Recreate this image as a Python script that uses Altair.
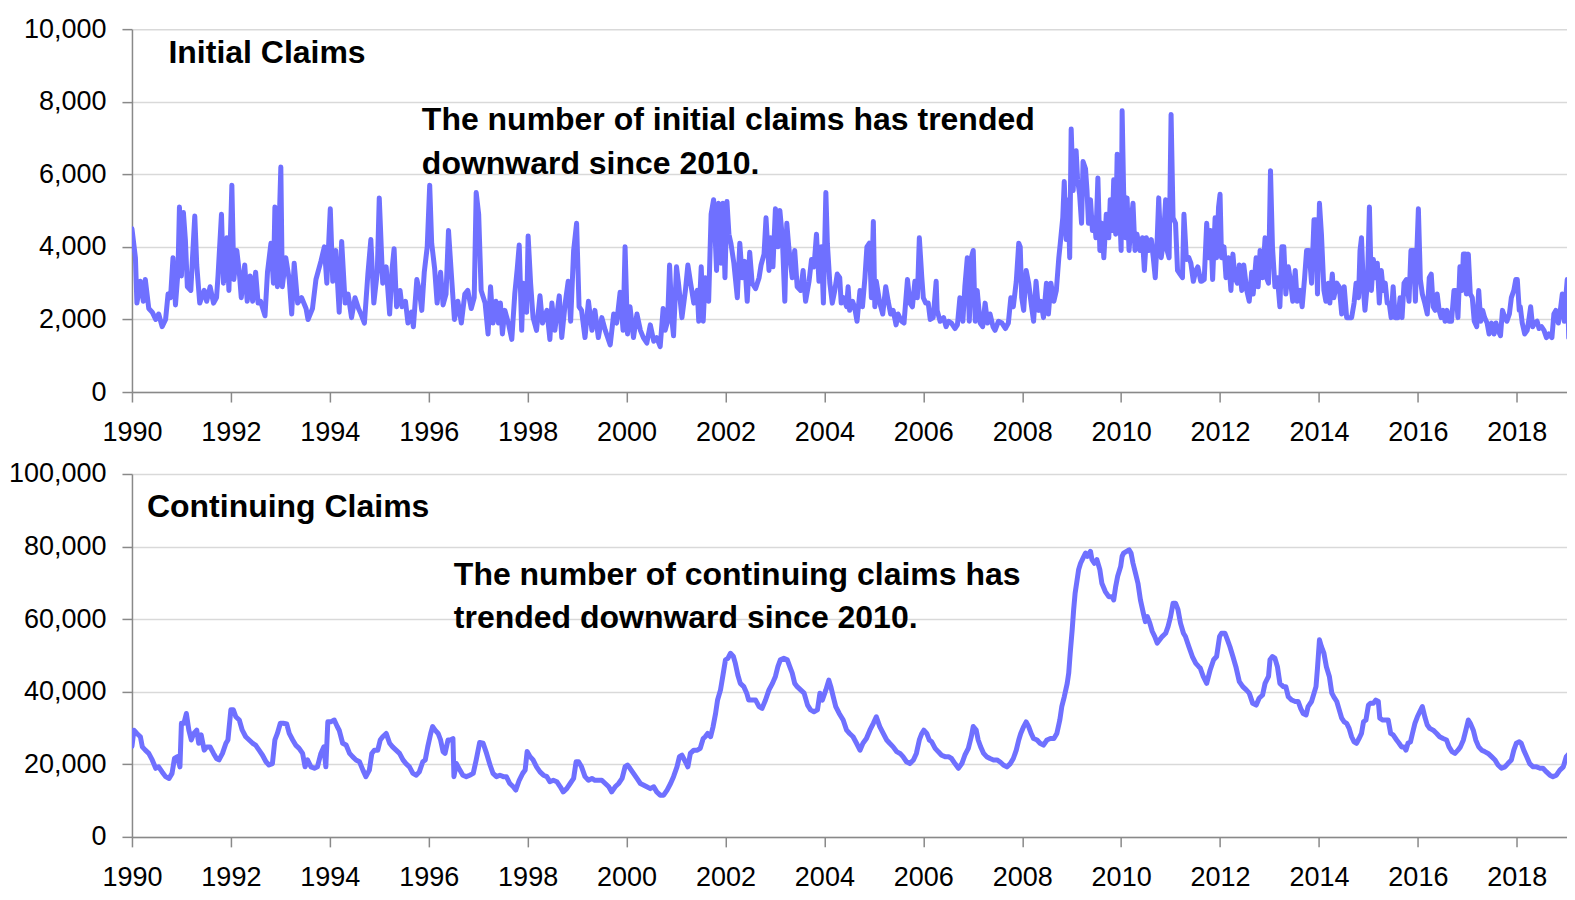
import altair as alt
import pandas as pd

# ---------------- data ----------------
# (decimal year, thousands of claims)
initial_claims = [
    (1990.00, 4500), (1990.07, 3700), (1990.10, 2450), (1990.17, 3050), (1990.23, 2500), (1990.27, 3100),
    (1990.34, 2300), (1990.41, 2200), (1990.48, 2000), (1990.54, 2150), (1990.61, 1800), (1990.68, 2000),
    (1990.73, 2700), (1990.78, 2600), (1990.83, 3700), (1990.88, 2400), (1990.93, 3300), (1990.96, 5100),
    (1991.00, 3200), (1991.04, 4950), (1991.08, 4200), (1991.12, 2900), (1991.19, 2800), (1991.22, 3600),
    (1991.27, 4850), (1991.31, 3500), (1991.37, 2450), (1991.46, 2800), (1991.51, 2500), (1991.58, 2900),
    (1991.65, 2450), (1991.71, 2600), (1991.74, 3200), (1991.81, 4900), (1991.85, 3000), (1991.92, 4250),
    (1991.96, 2800), (1992.02, 5700), (1992.06, 3100), (1992.12, 3900), (1992.17, 3300), (1992.21, 2600),
    (1992.28, 3500), (1992.33, 2500), (1992.39, 3200), (1992.44, 2500), (1992.50, 3300), (1992.55, 2450),
    (1992.60, 2500), (1992.69, 2100), (1992.74, 3300), (1992.81, 4100), (1992.86, 3000), (1992.89, 5100),
    (1992.94, 2900), (1993.01, 6200), (1993.04, 2900), (1993.11, 3700), (1993.18, 3100), (1993.23, 2150),
    (1993.28, 3550), (1993.35, 2450), (1993.43, 2600), (1993.52, 2300), (1993.56, 2000), (1993.65, 2300),
    (1993.72, 3100), (1993.82, 3600), (1993.89, 4000), (1993.94, 3000), (1994.01, 5050), (1994.06, 3050),
    (1994.12, 3900), (1994.19, 2200), (1994.24, 4150), (1994.31, 2450), (1994.37, 2700), (1994.44, 2050),
    (1994.51, 2600), (1994.58, 2300), (1994.63, 2150), (1994.70, 1900), (1994.77, 3250), (1994.83, 4200),
    (1994.89, 2450), (1994.96, 3300), (1995.00, 5350), (1995.07, 3000), (1995.14, 3450), (1995.21, 2150),
    (1995.26, 3400), (1995.30, 3950), (1995.35, 2350), (1995.42, 2800), (1995.46, 2350), (1995.53, 2500),
    (1995.58, 1900), (1995.65, 2200), (1995.69, 1800), (1995.76, 3100), (1995.81, 2800), (1995.86, 2250),
    (1995.91, 3300), (1995.97, 4000), (1996.02, 5700), (1996.06, 4100), (1996.12, 3400), (1996.17, 2450),
    (1996.24, 3300), (1996.29, 2400), (1996.35, 2700), (1996.40, 4450), (1996.46, 3200), (1996.52, 2000),
    (1996.59, 2500), (1996.66, 1900), (1996.73, 2700), (1996.79, 2800), (1996.86, 2300), (1996.92, 2600),
    (1996.96, 5500), (1997.01, 4900), (1997.06, 2800), (1997.14, 2450), (1997.20, 1600), (1997.25, 2900),
    (1997.30, 1900), (1997.36, 2500), (1997.41, 1900), (1997.45, 2450), (1997.49, 1600), (1997.54, 2250),
    (1997.61, 1900), (1997.68, 1450), (1997.74, 2700), (1997.79, 3400), (1997.83, 4050), (1997.88, 1700),
    (1997.91, 3000), (1997.98, 2200), (1998.01, 4300), (1998.06, 3000), (1998.11, 2050), (1998.18, 1700),
    (1998.25, 2650), (1998.30, 1900), (1998.39, 2250), (1998.45, 1450), (1998.49, 2450), (1998.55, 1700),
    (1998.64, 2650), (1998.69, 1500), (1998.76, 2450), (1998.82, 3050), (1998.87, 1950), (1998.93, 3900),
    (1998.99, 4650), (1999.04, 2350), (1999.09, 2250), (1999.16, 1500), (1999.23, 2500), (1999.30, 1700),
    (1999.36, 2250), (1999.43, 1500), (1999.50, 2050), (1999.57, 1700), (1999.67, 1300), (1999.74, 2150),
    (1999.80, 1900), (1999.87, 2750), (1999.93, 1700), (1999.97, 4000), (2000.02, 1600), (2000.07, 2350),
    (2000.14, 1500), (2000.21, 2150), (2000.28, 1700), (2000.34, 1500), (2000.41, 1350), (2000.48, 1850),
    (2000.55, 1400), (2000.61, 1500), (2000.68, 1250), (2000.74, 2300), (2000.78, 1700), (2000.83, 1950),
    (2000.87, 3500), (2000.92, 1950), (2000.95, 1550), (2001.01, 3450), (2001.05, 3000), (2001.12, 2050),
    (2001.19, 2800), (2001.24, 3500), (2001.29, 3050), (2001.36, 2450), (2001.43, 2800), (2001.46, 1950),
    (2001.51, 3450), (2001.55, 1950), (2001.59, 3150), (2001.66, 2500), (2001.71, 4900), (2001.76, 5300),
    (2001.82, 3350), (2001.86, 5200), (2001.91, 3550), (2001.95, 5200), (2001.99, 3150), (2002.03, 5250),
    (2002.07, 4350), (2002.11, 4100), (2002.17, 3550), (2002.24, 2600), (2002.29, 4100), (2002.34, 3150),
    (2002.39, 3600), (2002.44, 2500), (2002.49, 3850), (2002.54, 3000), (2002.61, 2850), (2002.68, 3150),
    (2002.72, 3500), (2002.78, 3800), (2002.82, 4800), (2002.88, 3350), (2002.91, 4250), (2002.96, 3450),
    (2003.01, 5050), (2003.06, 4000), (2003.10, 5000), (2003.15, 4250), (2003.20, 2500), (2003.24, 4650),
    (2003.28, 4000), (2003.35, 3150), (2003.40, 3900), (2003.45, 2900), (2003.52, 2800), (2003.57, 3350),
    (2003.62, 2500), (2003.69, 3050), (2003.74, 3650), (2003.79, 3450), (2003.84, 4350), (2003.89, 3050),
    (2003.94, 4000), (2003.98, 2450), (2004.03, 5500), (2004.06, 4100), (2004.11, 3000), (2004.16, 2450),
    (2004.21, 2800), (2004.26, 3250), (2004.31, 3150), (2004.34, 2450), (2004.39, 2600), (2004.45, 2350),
    (2004.48, 2900), (2004.51, 2250), (2004.57, 2500), (2004.61, 2350), (2004.66, 1950), (2004.72, 2800),
    (2004.77, 2350), (2004.82, 3150), (2004.86, 4000), (2004.91, 4100), (2004.95, 2600), (2004.99, 4700),
    (2005.02, 2350), (2005.05, 3050), (2005.12, 2450), (2005.18, 2150), (2005.24, 2900), (2005.29, 2500),
    (2005.34, 2150), (2005.39, 2250), (2005.45, 1850), (2005.49, 2150), (2005.56, 1950), (2005.61, 1900),
    (2005.68, 3100), (2005.73, 2450), (2005.78, 2350), (2005.83, 3050), (2005.88, 2600), (2005.92, 4250),
    (2005.97, 3150), (2006.00, 2600), (2006.05, 2450), (2006.10, 2450), (2006.14, 2000), (2006.20, 2050),
    (2006.26, 3050), (2006.28, 2250), (2006.34, 1950), (2006.41, 2050), (2006.46, 1800), (2006.51, 1950),
    (2006.57, 1900), (2006.64, 1750), (2006.69, 1850), (2006.74, 2600), (2006.80, 1950), (2006.84, 2900),
    (2006.89, 3700), (2006.93, 1950), (2006.98, 3750), (2007.01, 3900), (2007.05, 1950), (2007.09, 2800),
    (2007.15, 1900), (2007.20, 1800), (2007.25, 2450), (2007.30, 1900), (2007.35, 2150), (2007.41, 1800),
    (2007.45, 1700), (2007.52, 1950), (2007.59, 1900), (2007.66, 1750), (2007.72, 1900), (2007.77, 2600),
    (2007.82, 2350), (2007.88, 3050), (2007.93, 4100), (2007.96, 4000), (2007.99, 2600), (2008.03, 2250),
    (2008.08, 3350), (2008.13, 3000), (2008.18, 2450), (2008.23, 1950), (2008.28, 3050), (2008.33, 2250),
    (2008.38, 2500), (2008.43, 2050), (2008.49, 3000), (2008.53, 2150), (2008.58, 3000), (2008.64, 2500),
    (2008.69, 2800), (2008.74, 3700), (2008.77, 4100), (2008.82, 4800), (2008.85, 5800), (2008.89, 4200),
    (2008.93, 5300), (2008.96, 3700), (2008.99, 7250), (2009.03, 5550), (2009.06, 6450), (2009.09, 6650),
    (2009.12, 5850), (2009.16, 5450), (2009.20, 4650), (2009.23, 6350), (2009.28, 6150), (2009.31, 5550),
    (2009.34, 4650), (2009.38, 5300), (2009.42, 4450), (2009.46, 4800), (2009.49, 4250), (2009.53, 5900),
    (2009.57, 3900), (2009.61, 4650), (2009.65, 3700), (2009.70, 4900), (2009.75, 4250), (2009.78, 5300),
    (2009.82, 4450), (2009.85, 5850), (2009.89, 4350), (2009.92, 6550), (2009.96, 5350), (2010.00, 3900),
    (2010.02, 7750), (2010.05, 5550), (2010.09, 4250), (2010.12, 5350), (2010.16, 3900), (2010.20, 4650),
    (2010.24, 5200), (2010.28, 3900), (2010.32, 4350), (2010.38, 3900), (2010.43, 4250), (2010.47, 3350),
    (2010.51, 4250), (2010.56, 3900), (2010.61, 4200), (2010.65, 3700), (2010.69, 3150), (2010.73, 4250),
    (2010.76, 5350), (2010.81, 3700), (2010.85, 4100), (2010.90, 5300), (2010.93, 3900), (2010.97, 3700),
    (2011.01, 7650), (2011.05, 4800), (2011.10, 4650), (2011.14, 3350), (2011.19, 3250), (2011.24, 3150),
    (2011.27, 4900), (2011.32, 3650), (2011.37, 3700), (2011.41, 3550), (2011.46, 3050), (2011.51, 3350),
    (2011.55, 3450), (2011.61, 3050), (2011.63, 3050), (2011.68, 3100), (2011.73, 4650), (2011.77, 3700),
    (2011.81, 4450), (2011.85, 3100), (2011.90, 4800), (2011.93, 3700), (2011.97, 5100), (2012.00, 5450),
    (2012.03, 3700), (2012.08, 4000), (2012.12, 3150), (2012.17, 3700), (2012.22, 2800), (2012.26, 3800),
    (2012.30, 3150), (2012.35, 3000), (2012.39, 3500), (2012.44, 2800), (2012.48, 3500), (2012.54, 2800),
    (2012.59, 2500), (2012.64, 3300), (2012.67, 2700), (2012.73, 3700), (2012.77, 2900), (2012.81, 3900),
    (2012.86, 3150), (2012.91, 4250), (2012.94, 3150), (2012.98, 3000), (2013.02, 6100), (2013.06, 4000),
    (2013.11, 2900), (2013.16, 3150), (2013.21, 2350), (2013.25, 4000), (2013.29, 4000), (2013.33, 2700),
    (2013.38, 3450), (2013.43, 3000), (2013.47, 2500), (2013.52, 3350), (2013.56, 2500), (2013.62, 2800),
    (2013.66, 2350), (2013.71, 3150), (2013.75, 3900), (2013.80, 3900), (2013.85, 3000), (2013.90, 4750),
    (2013.94, 4750), (2013.97, 2700), (2014.01, 5200), (2014.05, 4350), (2014.10, 2800), (2014.14, 2500),
    (2014.19, 3000), (2014.22, 2450), (2014.27, 3250), (2014.30, 2600), (2014.36, 3000), (2014.41, 2900),
    (2014.46, 2150), (2014.51, 2900), (2014.56, 2050), (2014.61, 2050), (2014.66, 2050), (2014.71, 2450),
    (2014.75, 3000), (2014.80, 2600), (2014.83, 3900), (2014.86, 4250), (2014.90, 2800), (2014.93, 2250),
    (2014.98, 3000), (2015.02, 5100), (2015.06, 2800), (2015.10, 3650), (2015.14, 3150), (2015.18, 3550),
    (2015.22, 2450), (2015.26, 3350), (2015.30, 2800), (2015.34, 3000), (2015.38, 2450), (2015.42, 2450),
    (2015.46, 2050), (2015.50, 2900), (2015.54, 2050), (2015.60, 2050), (2015.64, 2600), (2015.68, 2050),
    (2015.72, 3000), (2015.77, 3100), (2015.82, 2500), (2015.86, 3900), (2015.91, 3900), (2015.95, 2500),
    (2015.98, 3900), (2016.01, 5050), (2016.05, 3100), (2016.09, 2700), (2016.14, 2450), (2016.19, 2150),
    (2016.23, 3150), (2016.27, 3250), (2016.31, 2350), (2016.35, 2250), (2016.39, 2700), (2016.43, 2250),
    (2016.47, 2050), (2016.51, 2250), (2016.55, 1950), (2016.59, 2250), (2016.63, 1950), (2016.68, 1950),
    (2016.73, 2800), (2016.77, 2800), (2016.81, 2050), (2016.85, 3450), (2016.89, 2800), (2016.92, 3800),
    (2016.96, 3800), (2016.98, 2700), (2017.02, 3800), (2017.06, 2700), (2017.10, 2600), (2017.14, 1950),
    (2017.19, 1800), (2017.23, 2800), (2017.27, 1950), (2017.31, 2250), (2017.35, 2050), (2017.40, 1900),
    (2017.44, 1600), (2017.49, 1900), (2017.54, 1600), (2017.58, 1900), (2017.62, 1700), (2017.67, 1550),
    (2017.71, 2250), (2017.76, 2050), (2017.80, 1950), (2017.85, 2150), (2017.89, 2600), (2017.94, 2800),
    (2017.98, 3100), (2018.01, 3100), (2018.05, 2250), (2018.07, 2350), (2018.11, 1900), (2018.16, 1600),
    (2018.21, 1700), (2018.25, 2050), (2018.28, 2350), (2018.32, 1800), (2018.36, 1900), (2018.41, 1950),
    (2018.45, 1750), (2018.50, 1800), (2018.55, 1700), (2018.60, 1500), (2018.65, 1600), (2018.71, 1500),
    (2018.75, 2150), (2018.79, 2250), (2018.84, 1900), (2018.88, 2250), (2018.92, 2700), (2018.96, 1950),
    (2018.99, 2600), (2019.02, 3100), (2019.05, 1500),
]

continuing_claims = [
    (1990.00, 25000), (1990.04, 29400), (1990.10, 28500), (1990.17, 27600), (1990.21, 24800), (1990.27, 23900),
    (1990.34, 23000), (1990.41, 21200), (1990.48, 18900), (1990.54, 19300), (1990.61, 17900), (1990.68, 16600),
    (1990.75, 16100), (1990.81, 17500), (1990.86, 21600), (1990.92, 22100), (1990.97, 19300), (1991.00, 31300),
    (1991.05, 31300), (1991.10, 34000), (1991.15, 29400), (1991.20, 26700), (1991.25, 28500), (1991.31, 29400),
    (1991.35, 25800), (1991.40, 28100), (1991.46, 23900), (1991.51, 24800), (1991.58, 24800), (1991.65, 23000),
    (1991.71, 21600), (1991.76, 21200), (1991.83, 23000), (1991.90, 25800), (1991.94, 26700), (1992.00, 35000),
    (1992.05, 35000), (1992.10, 33100), (1992.17, 32200), (1992.23, 29400), (1992.30, 27600), (1992.37, 26700),
    (1992.44, 25800), (1992.50, 25300), (1992.57, 23900), (1992.64, 22500), (1992.71, 20700), (1992.77, 19800),
    (1992.84, 20200), (1992.89, 26700), (1992.94, 28500), (1993.00, 31300), (1993.06, 31300), (1993.13, 31100),
    (1993.18, 28500), (1993.25, 26700), (1993.31, 25300), (1993.38, 24400), (1993.45, 23000), (1993.50, 19300),
    (1993.55, 21200), (1993.62, 19300), (1993.69, 18900), (1993.75, 19300), (1993.82, 23000), (1993.88, 24800),
    (1993.92, 19300), (1993.96, 31700), (1994.02, 31700), (1994.09, 32200), (1994.15, 30400), (1994.19, 29400),
    (1994.26, 25800), (1994.33, 25300), (1994.40, 23000), (1994.46, 22100), (1994.53, 21200), (1994.60, 20700),
    (1994.67, 18400), (1994.73, 16600), (1994.80, 18400), (1994.85, 23000), (1994.90, 23900), (1994.97, 23900),
    (1995.02, 26700), (1995.07, 27600), (1995.14, 28500), (1995.21, 25800), (1995.27, 24800), (1995.34, 23900),
    (1995.41, 23000), (1995.48, 21200), (1995.54, 20200), (1995.61, 19300), (1995.68, 17500), (1995.75, 17000),
    (1995.81, 17900), (1995.88, 20700), (1995.93, 21200), (1995.98, 24800), (1996.04, 28500), (1996.08, 30400),
    (1996.13, 29400), (1996.19, 28500), (1996.24, 26700), (1996.29, 23500), (1996.33, 23000), (1996.39, 26700),
    (1996.44, 26700), (1996.49, 27100), (1996.51, 16600), (1996.56, 20200), (1996.63, 18400), (1996.69, 17000),
    (1996.76, 16600), (1996.83, 17000), (1996.90, 17500), (1996.96, 21200), (1997.03, 26000), (1997.10, 25800),
    (1997.17, 23000), (1997.24, 19800), (1997.30, 17500), (1997.37, 16600), (1997.44, 17000), (1997.51, 16600),
    (1997.57, 16600), (1997.64, 14700), (1997.71, 13800), (1997.76, 12900), (1997.83, 15600), (1997.90, 17500),
    (1997.95, 18400), (1997.99, 23500), (1998.05, 22100), (1998.11, 21200), (1998.18, 19300), (1998.25, 17900),
    (1998.32, 17000), (1998.39, 16600), (1998.45, 15200), (1998.52, 15600), (1998.59, 15200), (1998.66, 13800),
    (1998.72, 12400), (1998.79, 13300), (1998.86, 14700), (1998.93, 16100), (1998.98, 20700), (1999.03, 20700),
    (1999.09, 19300), (1999.16, 16600), (1999.23, 15600), (1999.30, 16100), (1999.36, 15600), (1999.43, 15600),
    (1999.50, 15600), (1999.57, 14700), (1999.64, 13800), (1999.70, 12400), (1999.77, 13800), (1999.84, 14700),
    (1999.91, 16100), (1999.97, 19300), (2000.02, 19800), (2000.07, 18900), (2000.14, 17500), (2000.21, 16100),
    (2000.28, 14700), (2000.34, 14300), (2000.41, 13800), (2000.48, 13300), (2000.55, 13800), (2000.61, 12400),
    (2000.68, 11500), (2000.75, 11500), (2000.82, 12900), (2000.89, 14700), (2000.95, 16600), (2001.02, 19300),
    (2001.07, 22100), (2001.12, 22500), (2001.19, 20700), (2001.24, 19300), (2001.29, 23000), (2001.36, 23900),
    (2001.43, 23900), (2001.49, 24400), (2001.55, 27100), (2001.59, 27600), (2001.64, 28500), (2001.70, 27600),
    (2001.75, 30400), (2001.80, 34000), (2001.84, 37700), (2001.90, 40500), (2001.95, 44600), (2002.00, 48800),
    (2002.05, 49200), (2002.10, 50600), (2002.16, 49700), (2002.20, 47800), (2002.25, 44600), (2002.30, 42300),
    (2002.37, 41400), (2002.43, 39600), (2002.47, 37700), (2002.54, 37700), (2002.61, 37700), (2002.68, 35900),
    (2002.74, 35400), (2002.81, 37700), (2002.88, 40500), (2002.95, 42300), (2003.01, 44200), (2003.06, 46900),
    (2003.11, 48800), (2003.18, 49200), (2003.25, 48800), (2003.30, 46900), (2003.35, 45100), (2003.40, 42300),
    (2003.45, 41400), (2003.52, 40500), (2003.59, 39600), (2003.66, 36300), (2003.72, 35000), (2003.79, 34500),
    (2003.86, 35000), (2003.91, 39600), (2003.96, 37700), (2004.03, 40500), (2004.09, 43200), (2004.13, 41400),
    (2004.18, 38600), (2004.23, 35900), (2004.30, 34000), (2004.38, 32200), (2004.45, 29400), (2004.51, 28500),
    (2004.58, 27600), (2004.65, 25800), (2004.72, 23900), (2004.78, 25800), (2004.85, 27100), (2004.92, 29400),
    (2004.99, 31300), (2005.05, 33100), (2005.12, 30400), (2005.19, 28500), (2005.26, 26700), (2005.32, 25800),
    (2005.39, 24800), (2005.46, 23500), (2005.53, 23000), (2005.59, 22100), (2005.66, 20700), (2005.73, 20200),
    (2005.80, 21200), (2005.86, 23000), (2005.92, 26700), (2005.97, 28500), (2006.01, 29400), (2006.07, 28500),
    (2006.12, 26700), (2006.17, 26200), (2006.24, 24400), (2006.30, 23500), (2006.37, 22500), (2006.44, 22100),
    (2006.51, 22100), (2006.57, 21600), (2006.64, 20200), (2006.71, 18900), (2006.78, 20200), (2006.84, 22500),
    (2006.91, 24400), (2006.97, 27600), (2007.01, 30400), (2007.07, 29400), (2007.11, 26700), (2007.16, 24800),
    (2007.22, 23000), (2007.28, 22100), (2007.35, 21600), (2007.42, 21200), (2007.49, 21200), (2007.55, 20700),
    (2007.62, 19800), (2007.69, 19300), (2007.76, 20200), (2007.82, 21600), (2007.88, 23900), (2007.93, 26700),
    (2007.97, 28500), (2008.03, 30400), (2008.08, 31700), (2008.13, 30400), (2008.18, 28500), (2008.23, 27100),
    (2008.30, 26700), (2008.36, 25800), (2008.43, 25300), (2008.50, 26700), (2008.57, 27100), (2008.64, 27100),
    (2008.70, 28500), (2008.76, 32200), (2008.80, 35900), (2008.85, 38600), (2008.91, 42300), (2008.94, 45100),
    (2008.97, 50600), (2009.01, 57000), (2009.04, 62600), (2009.07, 67200), (2009.11, 70800), (2009.14, 73600),
    (2009.18, 75400), (2009.23, 76800), (2009.28, 78200), (2009.32, 77300), (2009.38, 78700), (2009.41, 76400),
    (2009.46, 75400), (2009.51, 76400), (2009.57, 73600), (2009.61, 69900), (2009.68, 67600), (2009.75, 66200),
    (2009.82, 66200), (2009.85, 65300), (2009.89, 69000), (2009.93, 71800), (2009.99, 74500), (2010.02, 77300),
    (2010.05, 78200), (2010.11, 78700), (2010.16, 79100), (2010.20, 78200), (2010.24, 75400), (2010.29, 72700),
    (2010.34, 69900), (2010.39, 65300), (2010.45, 61600), (2010.49, 59300), (2010.53, 60700), (2010.58, 58900),
    (2010.63, 56600), (2010.68, 55200), (2010.73, 53400), (2010.78, 54300), (2010.83, 55200), (2010.90, 56100),
    (2010.95, 58000), (2011.00, 60700), (2011.05, 64400), (2011.10, 64400), (2011.15, 62600), (2011.20, 58900),
    (2011.26, 56100), (2011.30, 55200), (2011.37, 52400), (2011.44, 49700), (2011.51, 47800), (2011.57, 46900),
    (2011.60, 46500), (2011.66, 44200), (2011.73, 42300), (2011.80, 46000), (2011.87, 48800), (2011.93, 49700),
    (2011.99, 55200), (2012.03, 56100), (2012.10, 56100), (2012.15, 54300), (2012.20, 52400), (2012.26, 49700),
    (2012.32, 46900), (2012.39, 42800), (2012.46, 41400), (2012.53, 40500), (2012.59, 39600), (2012.66, 36800),
    (2012.73, 36300), (2012.79, 38200), (2012.86, 39100), (2012.91, 42300), (2012.98, 44200), (2013.01, 48800),
    (2013.06, 49700), (2013.11, 49200), (2013.16, 46900), (2013.21, 42300), (2013.28, 41400), (2013.33, 41400),
    (2013.38, 38600), (2013.45, 37700), (2013.52, 37300), (2013.58, 37300), (2013.63, 35400), (2013.68, 34000),
    (2013.74, 33600), (2013.78, 35900), (2013.85, 37300), (2013.90, 39600), (2013.94, 41400), (2013.97, 46500),
    (2014.01, 54300), (2014.05, 52400), (2014.10, 50600), (2014.15, 46900), (2014.21, 44200), (2014.26, 39600),
    (2014.30, 38600), (2014.36, 37300), (2014.41, 35000), (2014.46, 32700), (2014.51, 31700), (2014.56, 31300),
    (2014.61, 29900), (2014.66, 27600), (2014.71, 26200), (2014.76, 25800), (2014.81, 27100), (2014.86, 28500),
    (2014.90, 31700), (2014.95, 32200), (2015.00, 36300), (2015.04, 36800), (2015.10, 36800), (2015.15, 37700),
    (2015.20, 37300), (2015.23, 32700), (2015.29, 32200), (2015.34, 32200), (2015.40, 32200), (2015.45, 28500),
    (2015.50, 28100), (2015.57, 26700), (2015.62, 25800), (2015.67, 24800), (2015.72, 24800), (2015.76, 23900),
    (2015.80, 25800), (2015.85, 26200), (2015.89, 28500), (2015.94, 31300), (2015.99, 33100), (2016.04, 34500),
    (2016.09, 35900), (2016.14, 33100), (2016.19, 30800), (2016.24, 29900), (2016.31, 29400), (2016.38, 28500),
    (2016.44, 27600), (2016.51, 27100), (2016.58, 26700), (2016.63, 24800), (2016.69, 23500), (2016.75, 23000),
    (2016.81, 23900), (2016.86, 24800), (2016.92, 26700), (2016.97, 29400), (2017.02, 32200), (2017.06, 31300),
    (2017.12, 29400), (2017.17, 26700), (2017.23, 24800), (2017.29, 23900), (2017.35, 23500), (2017.42, 23000),
    (2017.49, 22100), (2017.56, 21200), (2017.62, 19800), (2017.69, 18900), (2017.76, 19300), (2017.82, 20200),
    (2017.89, 21200), (2017.94, 23900), (2017.99, 25800), (2018.05, 26200), (2018.09, 25800), (2018.14, 23900),
    (2018.20, 22100), (2018.26, 20200), (2018.33, 19300), (2018.40, 19300), (2018.47, 18900), (2018.53, 18900),
    (2018.60, 17900), (2018.67, 17000), (2018.73, 16600), (2018.80, 17000), (2018.87, 18400), (2018.94, 19300),
    (2019.00, 22100), (2019.06, 23000),
]

year_ticks = list(range(1990, 2019, 2))
initial_ticks = [0, 2000, 4000, 6000, 8000, 10000]
continuing_ticks = [0, 20000, 40000, 60000, 80000, 100000]
x_domain = [1990, 2019.015]

initial_title = "Initial Claims"
continuing_title = "Continuing Claims"
initial_note = ["The number of initial claims has trended", "downward since 2010."]
continuing_note = ["The number of continuing claims has", "trended downward since 2010."]

# ---------------- styling ----------------
FONT = "Liberation Sans"
LABEL_SIZE = 27
TEXT_SIZE = 32
LINE_COLOR = "#6F70FF"
AXIS_GREY = "#898989"
W, H = 1435.5, 363
Y_EXTENT = 123.5


def panel(points, yticks, title, note, title_xy, note_xy):
    df = pd.DataFrame(points, columns=["year", "value"])
    line = alt.Chart(df).mark_line(
        color=LINE_COLOR, strokeWidth=5, strokeJoin="round", strokeCap="round", clip=True
    ).encode(
        x=alt.X("year:Q",
                scale=alt.Scale(domain=x_domain, nice=False, zero=False),
                axis=alt.Axis(values=year_ticks, format="d", title=None, grid=False,
                              labelFlush=False, labelPadding=17.5, labelOverlap=False)),
        y=alt.Y("value:Q",
                scale=alt.Scale(domain=[yticks[0], yticks[-1]], nice=False),
                axis=alt.Axis(values=yticks, format=",.0f", title=None, grid=True,
                              labelFlush=False, labelPadding=16, labelOverlap=False,
                              minExtent=Y_EXTENT, maxExtent=Y_EXTENT)),
    )
    anchor = pd.DataFrame({"k": [0]})
    t = alt.Chart(anchor).mark_text(
        text=title, align="left", baseline="alphabetic", font=FONT,
        fontWeight="bold", fontSize=TEXT_SIZE, color="black"
    ).encode(x=alt.value(title_xy[0]), y=alt.value(title_xy[1]))
    n = alt.Chart(anchor).mark_text(
        text=note, align="left", baseline="alphabetic", font=FONT,
        fontWeight="bold", fontSize=TEXT_SIZE, color="black", lineHeight=43.5
    ).encode(x=alt.value(note_xy[0]), y=alt.value(note_xy[1]))
    return alt.layer(line, t, n).properties(width=W, height=H)


top = panel(initial_claims, initial_ticks, initial_title, initial_note, (36.5, 34), (290, 101))
bottom = panel(continuing_claims, continuing_ticks, continuing_title, continuing_note, (15, 43), (322, 111))

chart = alt.vconcat(top, bottom, spacing=14).properties(
    padding={"left": 0, "top": 7, "right": 0, "bottom": 0}
).configure_view(strokeWidth=0).configure_axis(
    labelFont=FONT, labelFontSize=LABEL_SIZE, labelColor="black",
    domainColor=AXIS_GREY, domainWidth=1.5,
    tickColor=AXIS_GREY, tickWidth=1.5, tickSize=10,
    gridColor="#D9D9D9", gridWidth=1.5,
)

chart.save("out.html", embed_options={"renderer": "svg", "actions": False})
